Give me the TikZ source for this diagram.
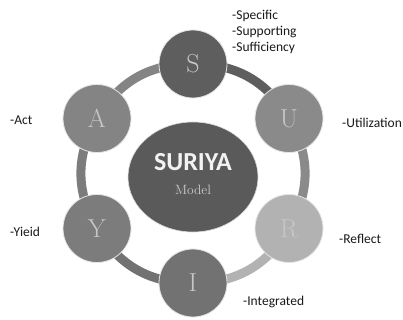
\documentclass[tikz,border=0pt]{standalone}
\usepackage{fontspec}
\newfontfamily\carlito{Carlito}
\usetikzlibrary{shapes.geometric}
\definecolor{cS}{HTML}{5E5E5E}
\definecolor{cU}{HTML}{8A8A8A}
\definecolor{cR}{HTML}{B2B2B2}
\definecolor{cI}{HTML}{727272}
\definecolor{cY}{HTML}{7C7C7C}
\definecolor{cA}{HTML}{848484}
\definecolor{cC}{HTML}{5A5A5A}
\tikzset{
  ball/.style={circle, minimum size=68pt, inner sep=0pt, draw=white!80!gray, line width=0.8pt,
    font=\fontsize{26}{26}\selectfont, text=white!78!black},
  ring/.style={line width=9pt},
  lab/.style={anchor=west, inner sep=0pt, font=\carlito\fontsize{13.5}{16}\selectfont, text=black!90}
}
\begin{document}
\begin{tikzpicture}[x=1pt,y=-1pt]
\useasboundingbox[fill=white] (0,0) rectangle (403,320);
% hexagon centres
\coordinate (pS) at (193,64);
\coordinate (pU) at (289,118.5);
\coordinate (pR) at (289,228.5);
\coordinate (pI) at (193,283);
\coordinate (pY) at (97,228.5);
\coordinate (pA) at (97,118.5);
% ring segments
\draw[ring, cS] (pS) to[bend left=30] (pU);
\draw[ring, cU] (pU) to[bend left=30] (pR);
\draw[ring, cR] (pR) to[bend left=30] (pI);
\draw[ring, cI] (pI) to[bend left=30] (pY);
\draw[ring, cY] (pY) to[bend left=30] (pA);
\draw[ring, cA] (pA) to[bend left=30] (pS);
% centre
\node[ellipse, minimum width=130pt, minimum height=110pt, fill=cC, draw=white!70!gray, line width=0.6pt] (C) at (193,177) {};
\node[font=\carlito\bfseries\fontsize{26}{26}\selectfont, text=white!90!gray] (T) at (193,162) {SURIYA};
\node[font=\fontsize{13.5}{14}\selectfont, text=white!60!gray] (M) at (193,190) {Model};
% outer circles
\node[ball, fill=cS] (S) at (pS) {S};
\node[ball, fill=cU] (U) at (pU) {U};
\node[ball, fill=cR] (R) at (pR) {R};
\node[ball, fill=cI] (I) at (pI) {I};
\node[ball, fill=cY] (Y) at (pY) {Y};
\node[ball, fill=cA] (A) at (pA) {A};
% labels
\node[lab] (l1) at (232,16) {-Specific};
\node[lab] (l2) at (232,32) {-Supporting};
\node[lab] (l3) at (232,48) {-Sufficiency};
\node[lab] (lU) at (342,123) {-Utilization};
\node[lab] (lR) at (339,239) {-Reflect};
\node[lab] (lI) at (243,302) {-Integrated};
\node[lab] (lA) at (10,120) {-Act};
\node[lab] (lY) at (10,232) {-Yieid};
\end{tikzpicture}
\end{document}
